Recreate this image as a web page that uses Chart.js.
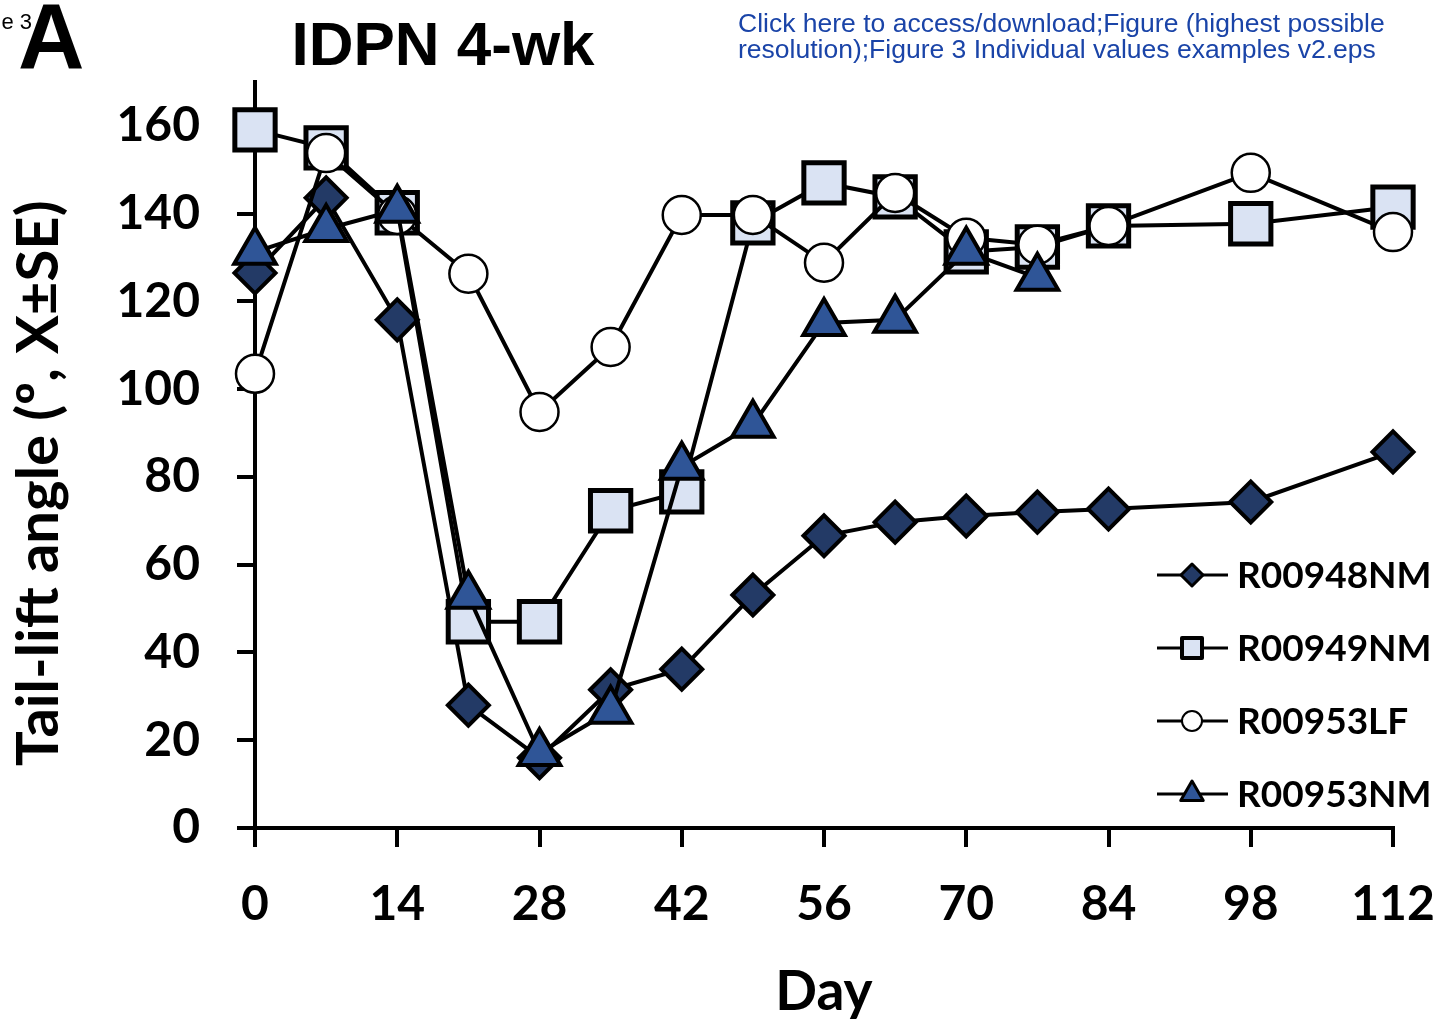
<!DOCTYPE html>
<html>
<head>
<meta charset="utf-8">
<title>IDPN 4-wk</title>
<script src="https://cdn.jsdelivr.net/npm/chart.js@4.4.1/dist/chart.umd.min.js"></script>
<style>
body{margin:0;background:#fff;}
#wrap{position:relative;width:1440px;height:1022px;}
</style>
</head>
<body>
<div id="wrap"><canvas id="myChart"></canvas></div>
<script>
// values (tail-lift angle per day)
var days = [0,7,14,21,28,35,42,49,56,63,70,77,84,98,112];
var r948nm = [126.5,143.6,115.8,28,16,31.5,36.2,53.1,66.6,69.7,71.1,72,72.7,74.3,85.7];
var r949nm = [159.1,155,140.2,47,47,72.3,76.6,137.9,147,143.8,131.3,132.4,137.2,137.7,141.5];
var r953lf = [103.5,153.8,139.7,126.3,94.8,109.6,139.7,139.7,128.8,144.7,134.5,132.9,137.2,149.3,135.8];
var r953nm = [131.3,136.5,140.9,52.9,17.1,26.7,82.3,91.9,115.1,115.8,131.3,125.4];
var names = ["R00948NM","R00949NM","R00953LF","R00953NM"];
var xTicks = [0,14,28,42,56,70,84,98,112];
var yTicks = [0,20,40,60,80,100,120,140,160];

function pts(vals){
    return vals.map(function(v,i){ return {x:days[i], y:v}; });
}

// legend marker shapes (line - marker - line)
function shape(ctx, style, x, y, r){
    ctx.beginPath();
    if(style=='rectRot'){
        ctx.moveTo(x-r,y); ctx.lineTo(x,y-r); ctx.lineTo(x+r,y); ctx.lineTo(x,y+r); ctx.closePath();
    } else if(style=='rect'){
        ctx.rect(x-r,y-r,2*r,2*r);
    } else if(style=='circle'){
        ctx.arc(x,y,r,0,Math.PI*2);
    } else {
        ctx.moveTo(x,y-r); ctx.lineTo(x+r*0.866,y+r/2); ctx.lineTo(x-r*0.866,y+r/2); ctx.closePath();
    }
    ctx.fill();
    ctx.stroke();
}

var extras = {
    id: 'extras',
    afterDraw: function(chart){
        var ctx = chart.ctx;
        ctx.save();
        // legend
        var legR = [11,10,10,13];
        var legBW = [3,4,2,3];
        chart.data.datasets.forEach(function(ds,i){
            var y = 575 + i*73;
            ctx.strokeStyle = '#000';
            ctx.lineWidth = 3;
            ctx.beginPath(); ctx.moveTo(1157,y); ctx.lineTo(1228,y); ctx.stroke();
            ctx.fillStyle = ds.pointBackgroundColor;
            ctx.lineWidth = legBW[i];
            ctx.lineJoin = 'round';
            shape(ctx, ds.pointStyle, 1192, y, legR[i]);
            ctx.fillStyle = '#000';
            ctx.font = 'bold 37px Lato';
            ctx.textAlign = 'left';
            ctx.textBaseline = 'middle';
            ctx.fillText(ds.label, 1237, y+1);
        });
        // header texts
        ctx.textBaseline = 'alphabetic';
        ctx.fillStyle = '#000';
        ctx.font = '22px "Liberation Sans"';
        ctx.textAlign = 'right';
        ctx.fillText('e 3', 32, 29);
        ctx.textAlign = 'left';
        ctx.font = 'bold 92px "Liberation Sans"';
        ctx.fillText('A', 18, 68);
        ctx.textAlign = 'center';
        ctx.font = 'bold 62px "Liberation Sans"';
        ctx.fillText('IDPN 4-wk', 443, 65);
        ctx.textAlign = 'left';
        ctx.fillStyle = '#1a44a8';
        ctx.font = '26.5px "Liberation Sans"';
        ctx.fillText('Click here to access/download;Figure (highest possible', 738, 32);
        ctx.fillText('resolution);Figure 3 Individual values examples v2.eps', 738, 58);
        ctx.restore();
    }
};

Chart.defaults.font.family = 'Lato';
Chart.defaults.font.weight = 'bold';
Chart.defaults.color = '#000';

var ctx = document.getElementById('myChart');
new Chart(ctx, {
    type: 'line',
    data: {
        datasets: [{
            label: names[0],
            data: pts(r948nm),
            borderColor: '#000', borderWidth: 4,
            pointStyle: 'rectRot', pointRadius: 20.5,
            pointBackgroundColor: '#233a66', pointBorderColor: '#000', pointBorderWidth: 4,
            order: 4, clip: false
        },{
            label: names[1],
            data: pts(r949nm),
            borderColor: '#000', borderWidth: 4,
            pointStyle: 'rect', pointRadius: 28.5,
            pointBackgroundColor: '#dae3f3', pointBorderColor: '#000', pointBorderWidth: 5,
            order: 3, clip: false
        },{
            label: names[2],
            data: pts(r953lf),
            borderColor: '#000', borderWidth: 4,
            pointStyle: 'circle', pointRadius: 19,
            pointBackgroundColor: '#ffffff', pointBorderColor: '#000', pointBorderWidth: 2.5,
            order: 2, clip: false
        },{
            label: names[3],
            data: pts(r953nm),
            borderColor: '#000', borderWidth: 4,
            pointStyle: 'triangle', pointRadius: 24,
            pointBackgroundColor: '#2f5597', pointBorderColor: '#000', pointBorderWidth: 4,
            order: 1, clip: false
        }]
    },
    options: {
        responsive: true,
        maintainAspectRatio: false,
        animation: false,
        layout: { padding: { left: 0, right: 47, top: 82, bottom: 0 } },
        plugins: {
            legend: { display: false },
            tooltip: { enabled: false }
        },
        scales: {
            x: {
                type: 'linear',
                min: 0, max: 112,
                afterBuildTicks: function(s){ s.ticks = xTicks.map(function(v){ return {value:v}; }); },
                afterFit: function(s){ s.height = 194; s.paddingLeft = 0; s.paddingRight = 0; },
                grid: { drawOnChartArea: false, drawTicks: true, tickLength: 19, tickWidth: 4, lineWidth: 4, color: '#000' },
                border: { display: true, color: '#000', width: 4 },
                ticks: { font: { size: 48, weight: 'bold' }, padding: 29, maxRotation: 0 },
                title: { display: true, text: 'Day', font: { size: 55, weight: 'bold' }, padding: { top: 0, bottom: -3 } }
            },
            y: {
                min: 0, max: 170,
                afterBuildTicks: function(s){ s.ticks = yTicks.map(function(v){ return {value:v}; }); },
                afterFit: function(s){ s.width = 255; },
                grid: { drawOnChartArea: false, drawTicks: true, tickLength: 18, tickWidth: 4, lineWidth: 4, color: '#000' },
                border: { display: true, color: '#000', width: 4 },
                ticks: { font: { size: 48, weight: 'bold' }, padding: 37 },
                title: { display: true, text: 'Tail-lift angle (º, X±SE)    ', font: { size: 58, weight: 'bold' }, padding: { top: 4, bottom: 0 } }
            }
        }
    },
    plugins: [extras]
});
</script>
</body>
</html>
